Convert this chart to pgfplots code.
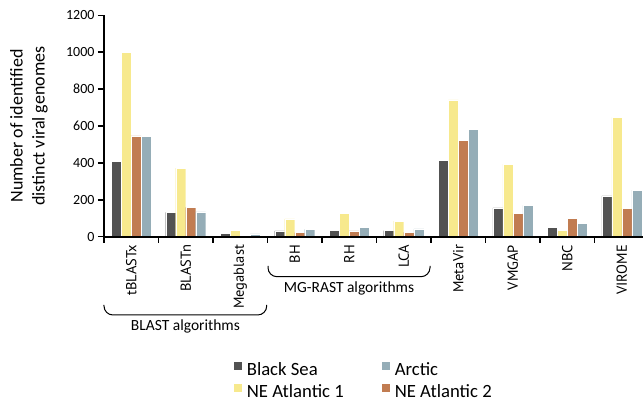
\documentclass[border=0pt]{standalone}
\usepackage{pgfplots}
\pgfplotsset{compat=1.18}
\usepackage{fontspec}
\setmainfont{Carlito}
\newfontfamily\ptsans{PT Sans}
\definecolor{cBlack}{HTML}{525252}
\definecolor{cYellow}{HTML}{F7E98D}
\definecolor{cOrange}{HTML}{C17C51}
\definecolor{cBlue}{HTML}{95ADB7}
\begin{document}
\begin{tikzpicture}
\begin{axis}[
  name=ax,
  axis on top,
  scale only axis,
  width=539pt, height=221.4pt,
  xmin=-0.5, xmax=9.39,
  ymin=0, ymax=1200,
  ybar=0pt, bar width=10pt,
  axis lines*=left,
  axis line style={line width=1.8pt},
  xtick={0,...,9},
  xticklabels={tBLASTx,BLASTn,Megablast,BH,RH,LCA,MetaVir,VMGAP,NBC,VIROME},
  minor xtick={-0.5,0.5,...,8.5},
  major x tick style={draw=none},
  minor tick length=6pt,
  minor x tick style={line width=1.5pt, black},
  ytick={0,200,...,1200},
  major tick length=6pt,
  y tick style={line width=1.5pt, black},
  tick align=outside,
  xticklabel style={rotate=90, anchor=east, font=\ptsans\fontsize{14.5}{17}\selectfont, inner sep=2pt},
  yticklabel style={font=\fontsize{14}{17}\selectfont},
  /pgf/number format/assume math mode=true,
  /pgf/number format/1000 sep={},
  ylabel={Number of identified\\distinct viral genomes},
  ylabel style={at={(axis description cs:-0.104,0.5)}, anchor=south, rotate=0, align=center, inner sep=0pt, font=\fontsize{18}{22}\selectfont},
  legend columns=2,
  legend cell align=left,
  legend style={at={(axis description cs:0.2405,-0.56)}, anchor=north west, draw=none, fill=none, inner sep=0pt,
    font=\fontsize{18.7}{22}\selectfont, row sep=3pt,
    /tikz/every odd column/.append style={column sep=3pt},
    /tikz/every even column/.append style={column sep=36pt}},
  sq/.style={legend image code/.code={\fill[##1] (0pt,0pt) rectangle (8pt,8pt);}},
]
\addlegendimage{sq, fill=cBlack, draw=none}\addlegendentry{Black Sea}
\addlegendimage{sq, fill=cBlue, draw=none}\addlegendentry{Arctic}
\addlegendimage{sq, fill=cYellow, draw=none}\addlegendentry{NE Atlantic 1}
\addlegendimage{sq, fill=cOrange, draw=none}\addlegendentry{NE Atlantic 2}
\addplot[fill=cBlack, draw=white, line width=0.4pt, bar shift=-15pt, forget plot] coordinates {(0,409) (1,132) (2,18) (3,31) (4,36) (5,33) (6,414) (7,156) (8,51) (9,221)};
\addplot[fill=cYellow, draw=white, line width=0.4pt, bar shift=-5pt, forget plot] coordinates {(0,1000) (1,372) (2,36) (3,96) (4,128) (5,85) (6,741) (7,394) (8,36) (9,647)};
\addplot[fill=cOrange, draw=white, line width=0.4pt, bar shift=5pt, forget plot] coordinates {(0,546) (1,159) (2,9) (3,22) (4,31) (5,24) (6,524) (7,127) (8,100) (9,152)};
\addplot[fill=cBlue, draw=white, line width=0.4pt, bar shift=15pt, forget plot] coordinates {(0,542) (1,134) (2,15) (3,40) (4,49) (5,42) (6,582) (7,170) (8,73) (9,253)};
\end{axis}
\begin{scope}[shift={(ax.south west)}]
  \draw[line width=1pt, rounded corners=9pt] (0pt,-68.3pt) -- (0pt,-78.3pt) -- (162.7pt,-78.3pt) -- (162.7pt,-68.3pt);
  \node[font=\fontsize{15.5}{18}\selectfont] at (81.4pt,-90pt) {BLAST algorithms};
  \draw[line width=1pt, rounded corners=9pt] (164pt,-29.3pt) -- (164pt,-40pt) -- (326pt,-40pt) -- (326pt,-29.3pt);
  \node[font=\fontsize{15.5}{18}\selectfont] at (245pt,-51.3pt) {MG-RAST algorithms};
\end{scope}
\pgfresetboundingbox
\path[use as bounding box] ([shift={(-104pt,-169.3pt)}]ax.south west) rectangle ([shift={(0pt,15.3pt)}]ax.north east);
\end{tikzpicture}
\end{document}
